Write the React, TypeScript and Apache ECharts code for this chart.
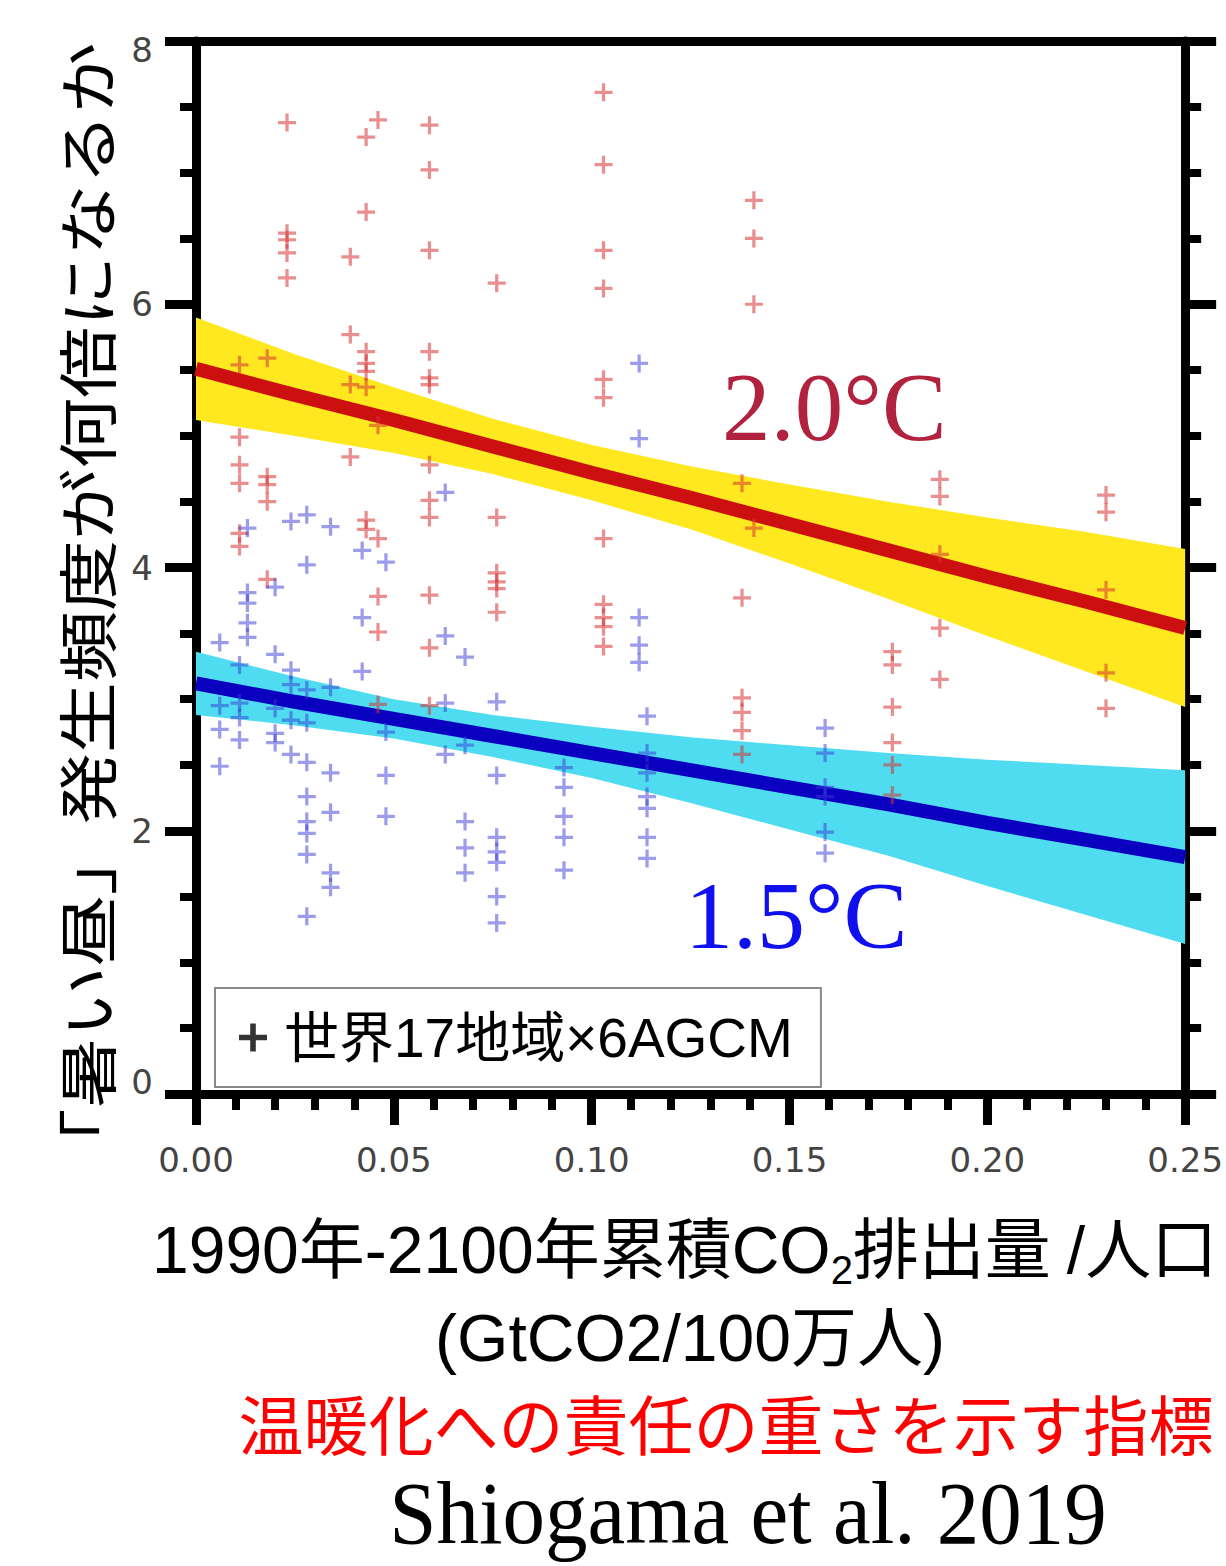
import React, { useEffect, useRef } from "react";
import * as echarts from "echarts";

// ---- axes ----
const X_MIN = 0;
const X_MAX = 0.25;
const X_STEP = 0.05;
const Y_MIN = 0;
const Y_MAX = 8;
const Y_STEP = 2;
const X_TICK_LABELS = ["0.00", "0.05", "0.10", "0.15", "0.20", "0.25"];
const Y_TICK_LABELS = ["0", "2", "4", "6", "8"];

// ---- regression lines and confidence bands (read at these x) ----
const BAND_X = [0, 0.025, 0.05, 0.075, 0.1, 0.125, 0.15, 0.175, 0.2, 0.225, 0.25];
const RED_CENTER = [5.51, 5.31, 5.12, 4.92, 4.72, 4.53, 4.33, 4.13, 3.93, 3.74, 3.54];
const RED_UPPER = [5.9, 5.62, 5.37, 5.13, 4.93, 4.77, 4.63, 4.5, 4.38, 4.27, 4.14];
const RED_LOWER = [5.12, 5.0, 4.87, 4.71, 4.51, 4.29, 4.03, 3.76, 3.48, 3.21, 2.94];
const BLUE_CENTER = [3.12, 2.98, 2.85, 2.72, 2.59, 2.46, 2.33, 2.2, 2.06, 1.93, 1.8];
const BLUE_UPPER = [3.36, 3.17, 3.0, 2.88, 2.79, 2.71, 2.65, 2.59, 2.54, 2.5, 2.46];
const BLUE_LOWER = [2.88, 2.8, 2.7, 2.56, 2.4, 2.21, 2.01, 1.81, 1.58, 1.36, 1.14];

// ---- scatter: 2.0°C (red) columns ----
const RED_COL_X = [0.011, 0.018, 0.023, 0.039, 0.043, 0.046, 0.059, 0.076, 0.103, 0.138, 0.141, 0.176, 0.188, 0.23];
const RED_COL_Y = [
  [5.54, 4.99, 4.78, 4.64, 4.26, 4.16],
  [5.59, 4.69, 4.63, 4.5, 3.91],
  [7.38, 6.54, 6.49, 6.39, 6.2],
  [6.36, 5.77, 5.39, 4.84],
  [7.27, 6.7, 5.64, 5.55, 5.49, 5.37, 4.36, 4.29],
  [7.4, 5.08, 4.22, 3.78, 3.51, 2.96],
  [7.36, 7.02, 6.41, 5.64, 5.44, 5.39, 4.78, 4.51, 4.38, 3.79, 3.39, 2.95],
  [6.16, 4.38, 3.96, 3.89, 3.84, 3.66],
  [7.61, 7.06, 6.41, 6.12, 5.43, 5.29, 4.22, 3.72, 3.62, 3.55, 3.4],
  [4.64, 3.77, 3.01, 2.9, 2.76, 2.58],
  [6.79, 6.5, 6.0, 4.3],
  [3.36, 3.26, 2.94, 2.67, 2.5, 2.27],
  [4.67, 4.54, 4.1, 3.54, 3.15],
  [4.55, 4.42, 3.83, 3.2, 2.93],
];

// ---- scatter: 1.5°C (blue) columns ----
const BLUE_COL_X = [0.006, 0.011, 0.013, 0.02, 0.024, 0.028, 0.034, 0.042, 0.048, 0.063, 0.068, 0.076, 0.093, 0.112, 0.114, 0.159];
const BLUE_COL_Y = [
  [3.43, 2.95, 2.77, 2.49],
  [3.26, 2.97, 2.86, 2.69],
  [4.3, 3.81, 3.73, 3.58, 3.47],
  [3.85, 3.34, 2.93, 2.74, 2.67],
  [4.35, 3.22, 3.11, 2.84, 2.58],
  [4.4, 4.02, 3.07, 2.82, 2.52, 2.26, 2.07, 1.98, 1.82, 1.35],
  [4.31, 3.09, 2.44, 2.14, 1.68, 1.57],
  [4.13, 3.62, 3.21],
  [4.04, 2.75, 2.42, 2.11],
  [4.57, 3.48, 2.97, 2.58],
  [3.32, 2.65, 2.07, 1.87, 1.68],
  [2.98, 2.42, 1.95, 1.84, 1.76, 1.5, 1.3],
  [2.48, 2.33, 2.11, 1.95, 1.7],
  [5.55, 4.98, 3.62, 3.41, 3.28],
  [2.87, 2.59, 2.44, 2.26, 2.17, 1.95, 1.79],
  [2.78, 2.59, 2.33, 2.26, 1.99, 1.83],
];

const LEGEND_NAME = "世界17地域×6AGCM";
const Y_TITLE = "「暑い昼」発生頻度が何倍になるか";
const LABEL_20 = "2.0°C";
const LABEL_15 = "1.5°C";

const SANS_JP = "'Liberation Sans', 'Noto Sans CJK JP', sans-serif";
const PLUS = "path://M0,4.1H4.1V0H5.9V4.1H10V5.9H5.9V10H4.1V5.9H0Z";
const PLUS_BOLD = "path://M0,4H4V0H6V4H10V6H6V10H4V6H0Z";

const toPoints = (xs: number[], ys: number[][]) =>
  xs.flatMap((x, i) => ys[i].map((y) => [x, y]));

const bandSeries = (upper: number[], lower: number[], color: string) => ({
  type: "custom",
  xAxisIndex: 0,
  yAxisIndex: 0,
  silent: true,
  z: 1,
  data: [[BAND_X[0], upper[0]]],
  renderItem: (_params: any, api: any) => {
    const pts: number[][] = [];
    for (let i = 0; i < BAND_X.length; i++) pts.push(api.coord([BAND_X[i], upper[i]]));
    for (let i = BAND_X.length - 1; i >= 0; i--) pts.push(api.coord([BAND_X[i], lower[i]]));
    return { type: "polygon", shape: { points: pts }, style: { fill: color } };
  },
});

const lineSeries = (center: number[], color: string) => ({
  type: "line",
  xAxisIndex: 0,
  yAxisIndex: 0,
  silent: true,
  z: 2,
  symbol: "none",
  data: BAND_X.map((x, i) => [x, center[i]]),
  lineStyle: { color, width: 14, cap: "butt" },
});

const scatterSeries = (data: number[][], color: string) => ({
  type: "scatter",
  xAxisIndex: 0,
  yAxisIndex: 0,
  silent: true,
  z: 3,
  symbol: PLUS,
  symbolSize: 18,
  data,
  itemStyle: { color },
});

const tickFont = { fontSize: 34, color: "#444", fontFamily: "DejaVu Sans" };

export default function App() {
  const ref = useRef<HTMLDivElement>(null);
  useEffect(() => {
    if (!ref.current) return;
    const chart = echarts.init(ref.current, undefined, { renderer: "svg" });
    const baseAxisLine = { show: true, onZero: false, lineStyle: { color: "#000", width: 9 } };
    const majorTick = { show: true, inside: false, length: 31, lineStyle: { color: "#000", width: 9 } };
    const minorTickX = { show: true, splitNumber: 5, length: 16, lineStyle: { color: "#000", width: 8 } };
    const minorTickY = { show: true, splitNumber: 4, length: 16, lineStyle: { color: "#000", width: 8 } };

    chart.setOption({
      animation: false,
      backgroundColor: "#fff",
      grid: { left: 196, right: 38, top: 41, bottom: 472, containLabel: false },
      xAxis: [
        {
          type: "value",
          position: "bottom",
          min: X_MIN,
          max: X_MAX,
          interval: X_STEP,
          axisLine: baseAxisLine,
          axisTick: majorTick,
          minorTick: minorTickX,
          splitLine: { show: false },
          minorSplitLine: { show: false },
          axisLabel: {
            ...tickFont,
            margin: 49,
            formatter: (v: number) => X_TICK_LABELS[Math.round(v / X_STEP)],
          },
        },
        {
          type: "value",
          position: "top",
          min: X_MIN,
          max: X_MAX,
          interval: X_STEP,
          axisLine: baseAxisLine,
          axisTick: { show: false },
          axisLabel: { show: false },
          splitLine: { show: false },
        },
      ],
      yAxis: [
        {
          type: "value",
          position: "left",
          min: Y_MIN,
          max: Y_MAX,
          interval: Y_STEP,
          axisLine: baseAxisLine,
          axisTick: majorTick,
          minorTick: minorTickY,
          splitLine: { show: false },
          minorSplitLine: { show: false },
          axisLabel: {
            ...tickFont,
            margin: 43,
            formatter: (v: number) => {
              const i = Math.round(v / Y_STEP);
              const t = Y_TICK_LABELS[i];
              if (i === 0) return "{lo|" + t + "}";
              if (i === Y_TICK_LABELS.length - 1) return "{hi|" + t + "}";
              return t;
            },
            rich: {
              lo: { ...tickFont, padding: [0, 0, 24, 0] },
              hi: { ...tickFont, padding: [18, 0, 0, 0] },
            },
          },
        },
        {
          type: "value",
          position: "right",
          min: Y_MIN,
          max: Y_MAX,
          interval: Y_STEP,
          axisLine: baseAxisLine,
          axisTick: majorTick,
          minorTick: minorTickY,
          splitLine: { show: false },
          minorSplitLine: { show: false },
          axisLabel: { show: false },
        },
      ],
      legend: {
        data: [{ name: LEGEND_NAME, icon: PLUS_BOLD }],
        left: 215,
        top: 988,
        backgroundColor: "#fff",
        borderColor: "#888",
        borderWidth: 2,
        borderRadius: 0,
        padding: [20, 28, 20, 24],
        itemWidth: 28,
        itemHeight: 28,
        selectedMode: false,
        textStyle: {
          fontSize: 55,
          lineHeight: 59,
          color: "#000",
          fontFamily: SANS_JP,
          padding: [0, 0, 0, 12],
        },
      },
      series: [
        bandSeries(RED_UPPER, RED_LOWER, "#ffe81f"),
        bandSeries(BLUE_UPPER, BLUE_LOWER, "#50dcf0"),
        lineSeries(RED_CENTER, "#cc1010"),
        lineSeries(BLUE_CENTER, "#0a00c0"),
        scatterSeries(toPoints(RED_COL_X, RED_COL_Y), "rgba(215,50,50,0.68)"),
        scatterSeries(toPoints(BLUE_COL_X, BLUE_COL_Y), "rgba(55,55,215,0.62)"),
        {
          type: "scatter",
          name: LEGEND_NAME,
          xAxisIndex: 0,
          yAxisIndex: 0,
          data: [],
          symbol: PLUS_BOLD,
          itemStyle: { color: "#000" },
        },
      ],
      graphic: [
        {
          type: "text",
          x: 85,
          y: 611,
          rotation: Math.PI / 2,
          scaleX: 1.185,
          style: {
            text: Y_TITLE,
            fontSize: 60,
            fontFamily: "Noto Sans CJK JP",
            fill: "#000",
            align: "center",
            verticalAlign: "middle",
          },
        },
        {
          type: "text",
          x: 722,
          y: 407,
          style: {
            text: LABEL_20,
            fontSize: 97,
            fontFamily: "Liberation Serif",
            fill: "#b0223e",
            align: "left",
            verticalAlign: "middle",
          },
        },
        {
          type: "text",
          x: 685,
          y: 915,
          style: {
            text: LABEL_15,
            fontSize: 96,
            fontFamily: "Liberation Serif",
            fill: "#1010ee",
            align: "left",
            verticalAlign: "middle",
          },
        },
        {
          type: "text",
          x: 152,
          y: 1250,
          style: {
            text: "{a|1990年-2100年累積CO}{s|2}{a|排出量}{b|/人口}",
            align: "left",
            verticalAlign: "middle",
            rich: {
              a: { fontSize: 66, lineHeight: 80, verticalAlign: "middle", fontFamily: SANS_JP, fill: "#000" },
              s: { fontSize: 40, lineHeight: 80, verticalAlign: "bottom", fontFamily: SANS_JP, fill: "#000" },
              b: { fontSize: 66, lineHeight: 80, verticalAlign: "middle", fontFamily: SANS_JP, fill: "#000", padding: [0, 0, 0, 16] },
            },
          },
        },
        {
          type: "text",
          x: 690,
          y: 1338,
          style: {
            text: "(GtCO2/100万人)",
            fontSize: 66,
            fontFamily: SANS_JP,
            fill: "#000",
            align: "center",
            verticalAlign: "middle",
          },
        },
        {
          type: "text",
          x: 726,
          y: 1422,
          style: {
            text: "温暖化への責任の重さを示す指標",
            fontSize: 65,
            fontFamily: "Noto Sans CJK JP",
            fill: "#ff0000",
            align: "center",
            verticalAlign: "middle",
          },
        },
        {
          type: "text",
          x: 748,
          y: 1513,
          scaleY: 1.05,
          style: {
            text: "Shiogama et al. 2019",
            fontSize: 85,
            fontFamily: "Liberation Serif",
            fill: "#000",
            align: "center",
            verticalAlign: "middle",
          },
        },
      ],
    });
    return () => chart.dispose();
  }, []);
  return (
    <div
      ref={ref}
      style={{ position: "absolute", left: 0, top: 0, width: 1226, height: 1566, background: "#fff" }}
    />
  );
}
